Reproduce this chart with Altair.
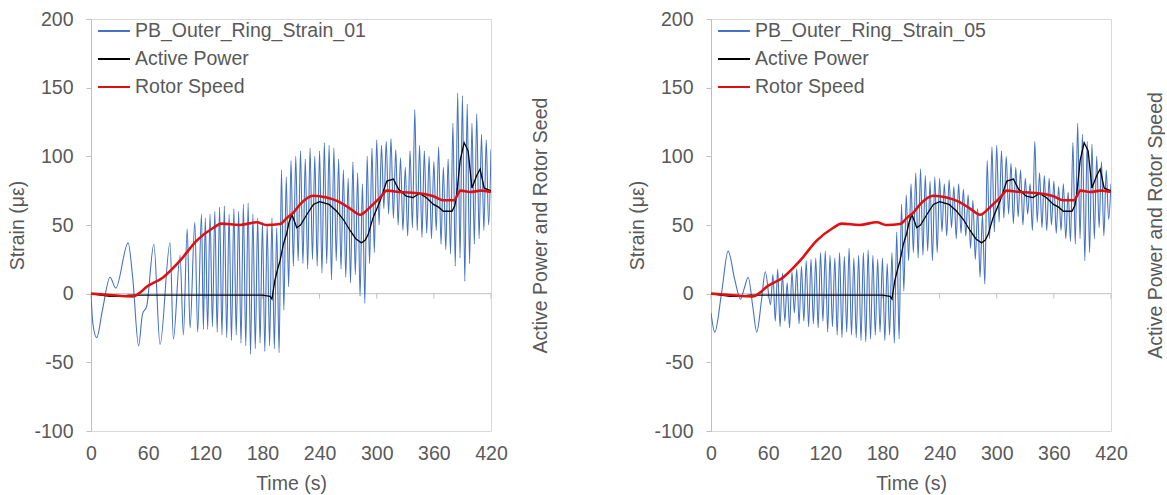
import altair as alt
import pandas as pd

# ---------------- data ----------------
time_ticks = [0, 60, 120, 180, 240, 300, 360, 420]
y_ticks = [-100, -50, 0, 50, 100, 150, 200]

# PB_Outer_Ring_Strain_01 (left panel): alternating extremes
s01_t = [0, 2, 6, 12, 20, 26, 39, 44, 50, 54, 58.5, 66, 72.5, 83, 86.5, 93.5, 97, 101, 104, 109, 112, 116, 118,
         120, 122.5, 125, 127.5, 130, 132.5, 135, 137.5, 140, 142.5, 145, 147.5, 150, 152.5, 155, 157.5,
         160, 162.5, 165, 167.5, 170, 172.5, 175, 177.5, 180, 182.5, 185, 187.5, 190, 192.5, 195, 197.5,
         200, 202.5, 205, 207.5, 210, 212.5, 215, 217.5, 220, 222.5, 225, 227.5, 230, 232.5, 235, 237.5,
         240, 242.5, 245, 247.5, 250, 252.5, 255, 257.5, 260, 262.5, 265, 267.5, 270, 272.5, 275, 277.5,
         280, 282.5, 285, 287.5, 290, 292.5, 295, 297.5, 300, 302.5, 305, 307.5, 310, 312.5, 315, 317.5,
         320, 322.5, 325, 327.5, 330, 332.5, 335, 337.5, 340, 342.5, 345, 347.5, 350, 352.5, 355, 357.5,
         360, 362.5, 365, 367.5, 370, 372.5, 375, 377.5, 380, 382.5, 385, 387.5, 390, 392.5, 395, 397.5,
         400, 402.5, 405, 407.5, 410, 412.5, 415, 417.5, 420]
s01_v = [0, -22, -32, -12, 12, 4, 37, 10, -38, -15, -9, 36, -37, 37, -33, 28, -30, 47, -25, 52, -28, 58, -26,
         55, -26, 58, -24, 60, -28, 63, -30, 64, -32, 58, -34, 62, -30, 60, -36,
         65, -38, 66, -44, 58, -40, 55, -36, 52, -42, 50, -38, 55, -40, 48, -43,
         90, -12, 85, 5, 97, 20, 100, 24, 104, 22, 98, 18, 106, 25, 100, 20,
         104, 15, 110, 22, 108, 10, 106, 24, 98, 18, 90, 12, 84, 8, 96, 14,
         88, -2, 80, -7, 100, 22, 106, 30, 112, 50, 108, 62, 111, 58, 113, 55,
         105, 50, 99, 46, 92, 42, 104, 48, 134, 46, 108, 41, 104, 44, 100, 40,
         96, 46, 107, 36, 92, 32, 98, 29, 124, 20, 146, 26, 144, 9, 138, 22,
         124, 36, 131, 40, 116, 46, 112, 50, 105]

# PB_Outer_Ring_Strain_05 (right panel): alternating extremes
s05_t = [0, 4, 11, 18, 25, 31, 35, 39, 44, 48, 53, 57, 62.5, 65, 67.5,
         70, 72.5, 75, 77.5, 80, 82.5, 85, 87.5, 90, 92.5, 95, 97.5, 100, 102.5, 105, 107.5,
         110, 112.5, 115, 117.5, 120, 122.5, 125, 127.5, 130, 132.5, 135, 137.5, 140, 142.5, 145, 147.5,
         150, 152.5, 155, 157.5, 160, 162.5, 165, 167.5, 170, 172.5, 175, 177.5, 180, 182.5, 185, 187.5,
         190, 192.5, 195, 197.5,
         200, 202.5, 205, 207.5, 210, 212.5, 215, 217.5, 220, 222.5, 225, 227.5, 230, 232.5, 235, 237.5,
         240, 242.5, 245, 247.5, 250, 252.5, 255, 257.5, 260, 262.5, 265, 267.5, 270, 272.5, 275, 277.5,
         280, 282.5, 285, 287.5, 290, 292.5, 295, 297.5, 300, 302.5, 305, 307.5, 310, 312.5, 315, 317.5,
         320, 322.5, 325, 327.5, 330, 332.5, 335, 337.5, 340, 342.5, 345, 347.5, 350, 352.5, 355, 357.5,
         360, 362.5, 365, 367.5, 370, 372.5, 375, 377.5, 380, 382.5, 385, 387.5, 390, 392.5, 395, 397.5,
         400, 402.5, 405, 407.5, 410, 412.5, 415, 417.5, 420]
s05_v = [-14, -28, 0, 31, 10, -4, 4, 12, -10, -28, -5, 16, -8, 14, -20,
         18, -24, 15, -20, 8, -25, 16, -14, 18, -22, 20, -20, 24, -24, 25, -22,
         26, -25, 30, -20, 31, -28, 28, -24, 26, -30, 30, -32, 27, -28, 33, -30,
         26, -32, 28, -34, 30, -35, 32, -33, 28, -30, 25, -28, 26, -34, 22, -30,
         30, -36, 45, -33,
         65, 2, 72, 24, 80, 30, 88, 26, 91, 28, 86, 31, 82, 24, 85, 30,
         84, 45, 80, 42, 83, 48, 78, 40, 80, 44, 76, 42, 72, 33, 68, 25,
         62, 12, 58, 7, 97, 40, 107, 45, 108, 52, 104, 55, 100, 58, 95, 51,
         92, 56, 90, 50, 84, 58, 80, 46, 111, 52, 88, 48, 86, 46, 84, 50,
         82, 44, 78, 46, 80, 40, 74, 38, 110, 36, 124, 40, 116, 24, 111, 30,
         109, 40, 100, 48, 96, 42, 90, 54, 80]

# Active Power (same in both panels)
power_t = [0, 10, 20, 30, 40, 60, 100, 140, 180, 188, 190, 193, 196, 198.5, 202, 205.5, 208, 211, 214, 216,
           220, 227, 233.5, 240, 250, 258, 265, 272, 278, 284, 288, 291, 296, 303.6, 310.6, 317.6, 320, 323,
           331, 338, 345, 352, 359.6, 365, 370, 379, 382, 384, 387.6, 391.8, 396, 400, 405, 408.6, 412.8,
           416, 420]
power_v = [0, -1, -2, -2, -1, -1, -1, -1, -1, -2, -4, 9.5, 18, 24, 36, 44, 52, 57.5, 52, 48,
           50, 58, 65, 67, 65, 60, 54, 46, 40, 37, 39, 43, 55, 67.7, 82, 83.4, 80, 76,
           71, 70, 73, 70, 65, 63, 60, 60, 64, 72, 97, 110, 104, 77, 86, 90.7, 77,
           76, 75]

# Rotor Speed (same in both panels)
speed_t = [0, 20, 44, 50, 58.5, 76, 93.5, 111, 128.5, 137, 156, 174, 184, 198.5, 205.5, 212.5, 219.5,
           233.5, 247.5, 260, 272, 282.6, 293, 303.6, 310.6, 324.6, 345.6, 359.6, 370, 381, 388, 398,
           409, 420]
speed_v = [0, -1, -2, 0, 5, 12, 24, 38.6, 48, 51, 50, 52, 50, 50.7, 55, 59, 65,
           71.3, 70, 67, 62, 57.5, 63, 70, 75, 74, 73, 71, 68, 68, 75, 74,
           75, 74]

# ---------------- styling ----------------
FONT = "Liberation Sans"
TXT = "#595959"
AXIS = "#BFBFBF"
BLUE = "#4472C4"
RED = "#E01010"
FS = 19.5


def panel(name, t, v, right_title, right_pad):
    strain = pd.DataFrame({"t": t, "v": v, "series": name})
    power = pd.DataFrame({"t": power_t, "v": power_v, "series": "Active Power"})
    speed = pd.DataFrame({"t": speed_t, "v": speed_v, "series": "Rotor Speed"})
    zero = pd.DataFrame({"v": [0]})
    ticks = pd.DataFrame({"t": time_ticks, "v": [0] * len(time_ticks), "v2": [-3.6] * len(time_ticks)})

    color = alt.Color(
        "series:N",
        scale=alt.Scale(domain=[name, "Active Power", "Rotor Speed"], range=[BLUE, "#000000", RED]),
        legend=alt.Legend(orient="none", legendX=6, legendY=-5, title=None, symbolType="stroke",
                          symbolSize=1024, symbolStrokeWidth=2, labelOffset=4, rowPadding=1,
                          padding=0, labelLimit=0),
    )
    xenc = alt.X("t:Q", scale=alt.Scale(domain=[0, 420], nice=False, zero=False),
                 axis=alt.Axis(values=time_ticks, title="Time (s)", grid=False, domain=False, ticks=False,
                               labelPadding=13, titlePadding=12, labelFlush=False))
    yaxis = alt.Axis(values=y_ticks, title="Strain (με)", grid=False, domainColor=AXIS, tickColor=AXIS,
                     tickSize=5, labelPadding=13, titlePadding=6, labelFlush=False,
                     labelExpr="'' + datum.value")
    yscale = alt.Scale(domain=[-100, 200], nice=False, zero=False)
    yenc = alt.Y("v:Q", scale=yscale, axis=yaxis)

    zero_rule = alt.Chart(zero).mark_rule(color=AXIS, strokeWidth=1).encode(y=yenc)
    tick_rules = alt.Chart(ticks).mark_rule(color=AXIS, strokeWidth=1).encode(x=xenc, y=yenc, y2="v2:Q")
    blue = alt.Chart(strain).mark_line(strokeWidth=1.1, interpolate="monotone", clip=True).encode(
        x=xenc, y=yenc, color=color)
    black = alt.Chart(power).mark_line(strokeWidth=1.3, clip=True).encode(x=xenc, y=yenc, color=color)
    inner = alt.layer(zero_rule, tick_rules, blue, black)

    red = alt.Chart(speed).mark_line(strokeWidth=2.6, interpolate="monotone", clip=True).encode(
        x=xenc,
        y=alt.Y("v:Q", scale=yscale,
                axis=alt.Axis(orient="right", title=right_title, labels=False, ticks=False, domain=False,
                              grid=False, titleAngle=270, titlePadding=right_pad)),
        color=color,
    )
    return alt.layer(inner, red).resolve_scale(y="independent").properties(width=400, height=412)


left = panel("PB_Outer_Ring_Strain_01", s01_t, s01_v, "Active Power and Rotor Seed", 59)
right = panel("PB_Outer_Ring_Strain_05", s05_t, s05_v, "Active Power and Rotor Speed", 54)

chart = (
    alt.hconcat(left, right, spacing=77)
    .resolve_scale(color="independent")
    .resolve_legend(color="independent")
    .properties(padding={"left": 7, "top": 8, "right": 0, "bottom": 0}, background="white")
    .configure_view(stroke="#D9D9D9", strokeWidth=1)
    .configure_axis(labelFont=FONT, titleFont=FONT, labelFontSize=FS, titleFontSize=FS,
                    labelColor=TXT, titleColor=TXT, titleFontWeight="normal")
    .configure_legend(labelFont=FONT, labelFontSize=FS, labelColor=TXT)
)

chart.save("out.html", embed_options={"renderer": "svg", "actions": False})
